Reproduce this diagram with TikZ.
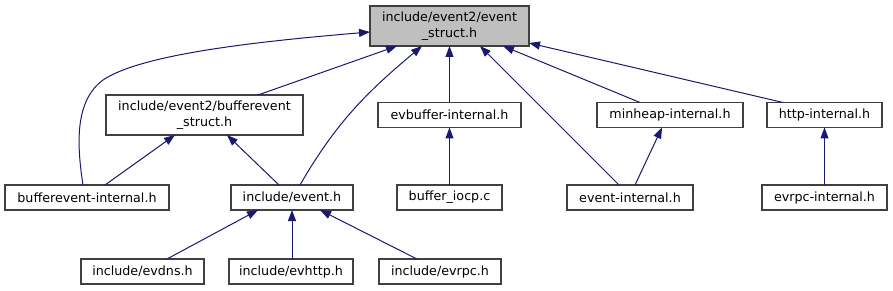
\documentclass[tikz,border=0pt]{standalone}
\usepackage{fontspec}
\setmainfont{DejaVu Sans}
\usepackage{xcolor}
\usepackage{tikz}
\usetikzlibrary{arrows.meta,positioning}
\definecolor{depblue}{HTML}{191970}
\definecolor{hdrgray}{HTML}{BFBFBF}

\begin{document}
\begin{tikzpicture}[
  x=1pt, y=-1pt,
  font=\fontsize{12.7}{15.5}\selectfont,
  file/.style={draw=black!75, line width=1.2pt, fill=white, minimum height=25pt, inner sep=2pt, outer sep=0pt, align=center},
  hdr/.style={file, fill=hdrgray, minimum height=40pt},
  dep/.style={draw=depblue, line width=1pt, -{Triangle[length=11pt,width=8pt]}}
]
\useasboundingbox (0,0) rectangle (893,291);

% Header
\node[hdr, minimum width=159pt] (evstruct) at (449.5,26) {include/event2/event\\\_struct.h};

% First level
\node[file, minimum width=197pt, minimum height=40pt] (bevstruct) at (204.5,115) {include/event2/bufferevent\\\_struct.h};
\node[file, minimum width=143pt, right=75pt of bevstruct] (evbufint) {evbuffer-internal.h};
\node[file, minimum width=146pt, right=76pt of evbufint] (minheap) {minheap-internal.h};
\node[file, minimum width=115pt, right=24pt of minheap] (httpint) {http-internal.h};

% Second level
\node[file, minimum width=164pt] (bevint) at (87,197.5) {bufferevent-internal.h};
\node[file, minimum width=122pt, right=62pt of bevint] (eventh) {include/event.h};
\node[file, minimum width=105pt, right=44pt of eventh] (iocp) {buffer\_iocp.c};
\node[file, minimum width=126pt, right=65pt of iocp] (evint) {event-internal.h};
\node[file, minimum width=125pt, right=69pt of evint] (evrpcint) {evrpc-internal.h};

% Third level
\node[file, minimum width=123pt] (evdns) at (142.5,271.5) {include/evdns.h};
\node[file, minimum width=124pt, right=25pt of evdns] (evhttp) {include/evhttp.h};
\node[file, minimum width=122pt, right=26pt of evhttp] (evrpc) {include/evrpc.h};

% Includes of the header
\draw[dep] ([xshift=-4pt]bevint.north) .. controls (76,140) and (76,100) .. (103,80)
  .. controls (140,55) and (250,42) .. ([yshift=-6pt]evstruct.west);
\draw[dep] ([xshift=53.5pt]bevstruct.north) -- ([xshift=-52.5pt]evstruct.south);
\draw[dep] ([xshift=8pt]eventh.north) to[out=60, in=220] ([xshift=-27.5pt]evstruct.south);
\draw[dep] (evbufint) -- (evstruct);
\draw[dep] ([xshift=-11pt]evint.north) -- ([xshift=30.5pt]evstruct.south);
\draw[dep] ([xshift=-30pt]minheap.north) -- ([xshift=53.5pt]evstruct.south);
\draw[dep] ([xshift=-41.5pt]httpint.north) -- ([yshift=3pt]evstruct.south east);

% Lower includes
\draw[dep] ([xshift=18pt]bevint.north) -- ([xshift=-29.5pt]bevstruct.south);
\draw[dep] ([xshift=-13pt]eventh.north) -- ([xshift=22.5pt]bevstruct.south);
\draw[dep] (iocp) -- (evbufint);
\draw[dep] ([xshift=5pt]evint.north) -- ([xshift=-8pt]minheap.south);
\draw[dep] (evrpcint) -- (httpint);
\draw[dep] ([xshift=24.5pt]evdns.north) -- ([xshift=-34pt]eventh.south);
\draw[dep] (evhttp.north -| eventh.south) -- (eventh.south);
\draw[dep] ([xshift=-23pt]evrpc.north) -- ([xshift=28pt]eventh.south);
\end{tikzpicture}
\end{document}
